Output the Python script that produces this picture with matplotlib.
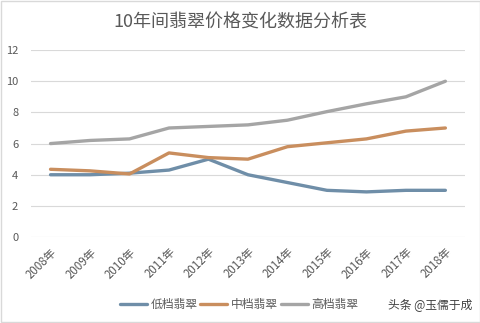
import matplotlib
matplotlib.use("Agg")
import matplotlib.pyplot as plt
from matplotlib.patches import Rectangle

plt.rcParams['font.family'] = ['Noto Sans CJK SC', 'DejaVu Sans']

years = ["2008年", "2009年", "2010年", "2011年", "2012年", "2013年",
         "2014年", "2015年", "2016年", "2017年", "2018年"]
low = [4.0, 4.0, 4.1, 4.3, 5.0, 4.0, 3.5, 3.0, 2.9, 3.0, 3.0]
mid = [4.35, 4.25, 4.05, 5.4, 5.1, 5.0, 5.8, 6.05, 6.3, 6.8, 7.0]
high = [6.0, 6.2, 6.3, 7.0, 7.1, 7.2, 7.5, 8.05, 8.55, 9.0, 10.0]
series_names = ["低档翡翠", "中档翡翠", "高档翡翠"]
colors = ["#6f8ea8", "#c98e5e", "#a5a5a5"]
title = "10年间翡翠价格变化数据分析表"
yticks = [0, 2, 4, 6, 8, 10, 12]

fig = plt.figure(figsize=(4.81, 3.23), dpi=100)
fig.patch.set_facecolor("white")
fig.add_artist(Rectangle((0.003, 0.003), 0.994, 0.994, transform=fig.transFigure,
                         fill=False, edgecolor="#d9d9d9", linewidth=1.0))

ax = fig.add_axes([0.064, 0.266, 0.903, 0.579])
x = list(range(len(years)))
for vals, name, c in zip([low, mid, high], series_names, colors):
    ax.plot(x, vals, color=c, linewidth=2.4, label=name, solid_capstyle="round")

ax.set_xlim(-0.5, len(years) - 0.5)
ax.set_ylim(0, 12)
ax.set_yticks(yticks)
ax.set_yticklabels([str(t) for t in yticks], fontsize=8, color="#595959")
ax.set_xticks(x)
ax.set_xticklabels(years, rotation=45, ha="right", rotation_mode="anchor",
                   fontsize=8.3, color="#595959")
ax.tick_params(axis="x", length=0, pad=6)
ax.tick_params(axis="y", length=0, pad=9)
ax.grid(axis="y", color="#d9d9d9", linewidth=0.8)
ax.set_axisbelow(True)
for s in ax.spines.values():
    s.set_visible(False)

fig.text(0.5, 0.93, title, ha="center", va="center", fontsize=13, color="#595959")

leg = fig.legend(loc="center", bbox_to_anchor=(0.497, 0.057), ncol=3, frameon=False,
                 fontsize=8.5, handlelength=2.3, handletextpad=0.3, columnspacing=0.25,
                 labelcolor="#595959")

fig.text(0.895, 0.057, "头条 @玉儒于成", ha="center", va="center", fontsize=8.5,
         color="#404040")

fig.savefig("out.png", dpi=100)
